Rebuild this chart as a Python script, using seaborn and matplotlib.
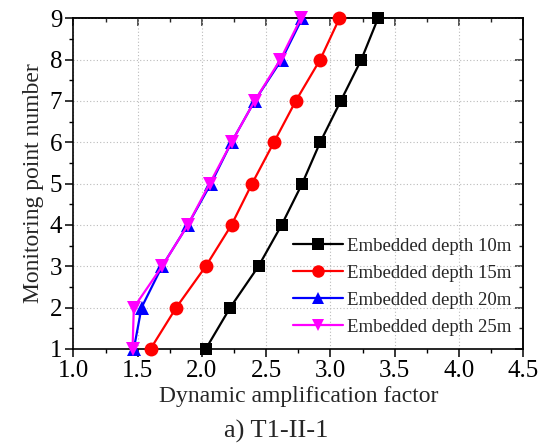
import numpy as np
import pandas as pd
import matplotlib
matplotlib.use("Agg")
import matplotlib.pyplot as plt
import seaborn as sns
from matplotlib.ticker import MultipleLocator

points = [1, 2, 3, 4, 5, 6, 7, 8, 9]
depth_10m = [2.03, 2.22, 2.44, 2.62, 2.78, 2.92, 3.08, 3.24, 3.37]
depth_15m = [1.60, 1.80, 2.03, 2.23, 2.39, 2.56, 2.73, 2.92, 3.07]
depth_20m = [1.47, 1.53, 1.69, 1.89, 2.07, 2.23, 2.41, 2.62, 2.78]
depth_25m = [1.46, 1.47, 1.69, 1.89, 2.06, 2.23, 2.41, 2.61, 2.77]
labels = ["Embedded depth 10m", "Embedded depth 15m",
          "Embedded depth 20m", "Embedded depth 25m"]
colors = ["#000000", "#ff0000", "#0000ff", "#ff00ff"]
markers = ["s", "o", "^", "v"]

sns.set_theme(style="ticks")
plt.rcParams["font.family"] = ["Liberation Serif", "DejaVu Serif"]
plt.rcParams["mathtext.fontset"] = "stix"

rows = []
for lab, vals in zip(labels, [depth_10m, depth_15m, depth_20m, depth_25m]):
    for p, v in zip(points, vals):
        rows.append({"series": lab, "factor": v, "point": p})
df = pd.DataFrame(rows)

fig = plt.figure(figsize=(5.52, 4.45), dpi=100)
ax = fig.add_axes([0.133, 0.216, 0.815, 0.743])

ax.grid(True, which="major", linestyle=(0, (1, 2)), color="#bbbbbb", linewidth=0.8)
ax.set_axisbelow(True)

sns.lineplot(data=df, x="factor", y="point", hue="series", style="series",
             hue_order=labels, style_order=labels,
             palette=dict(zip(labels, colors)),
             markers=dict(zip(labels, markers)), dashes=False,
             sort=False, estimator=None, orient="y",
             linewidth=1.6, markersize=9, markeredgewidth=0,
             ax=ax)

sizes = {"s": 9, "o": 10, "^": 10, "v": 10}
for line, m in zip(ax.get_lines(), markers):
    line.set_markersize(sizes[m])
    line.set_markeredgecolor(line.get_color())
    line.set_clip_on(False)
    line.set_zorder(5)

ax.set_xlim(1.0, 4.5)
ax.set_ylim(1, 9)
ax.xaxis.set_major_locator(MultipleLocator(0.5))
ax.xaxis.set_minor_locator(MultipleLocator(0.25))
ax.yaxis.set_major_locator(MultipleLocator(1))
ax.yaxis.set_minor_locator(MultipleLocator(0.5))
ax.set_xticklabels([f"{v:.1f}" for v in ax.get_xticks()])

for s in ax.spines.values():
    s.set_color("black")
    s.set_linewidth(1.2)

ax.tick_params(axis="both", which="major", direction="out", length=6, width=1.1,
               labelsize=18, colors="black", pad=2)
ax.tick_params(axis="both", which="minor", direction="out", length=3, width=1.0,
               colors="black")
ax2 = ax.secondary_xaxis("top")
ax2.xaxis.set_major_locator(MultipleLocator(0.5))
ax2.xaxis.set_minor_locator(MultipleLocator(0.25))
ax2.tick_params(which="major", direction="in", length=6, width=1.1, labeltop=False)
ax2.tick_params(which="minor", direction="in", length=3, width=1.0)
ay2 = ax.secondary_yaxis("right")
ay2.yaxis.set_major_locator(MultipleLocator(1))
ay2.yaxis.set_minor_locator(MultipleLocator(0.5))
ay2.tick_params(which="major", direction="in", length=6, width=1.1, labelright=False)
ay2.tick_params(which="minor", direction="in", length=3, width=1.0)
for sp in list(ax2.spines.values()) + list(ay2.spines.values()):
    sp.set_linewidth(1.2)

ax.set_xlabel("Dynamic amplification factor", fontsize=17, labelpad=3)
ax.set_ylabel("Monitoring point number", fontsize=17, labelpad=4)

leg = ax.legend(loc="center left", bbox_to_anchor=(0.531, 0.356),
                bbox_transform=fig.transFigure, frameon=False,
                fontsize=13.5, handlelength=2.65, handletextpad=0.2,
                labelspacing=0.53, borderpad=0, borderaxespad=0)
for h in leg.get_lines():
    h.set_linewidth(1.6)

fig.text(0.5, 0.005, "a) T1-II-1", ha="center", va="bottom", fontsize=19)

fig.savefig("out.png", dpi=100)
